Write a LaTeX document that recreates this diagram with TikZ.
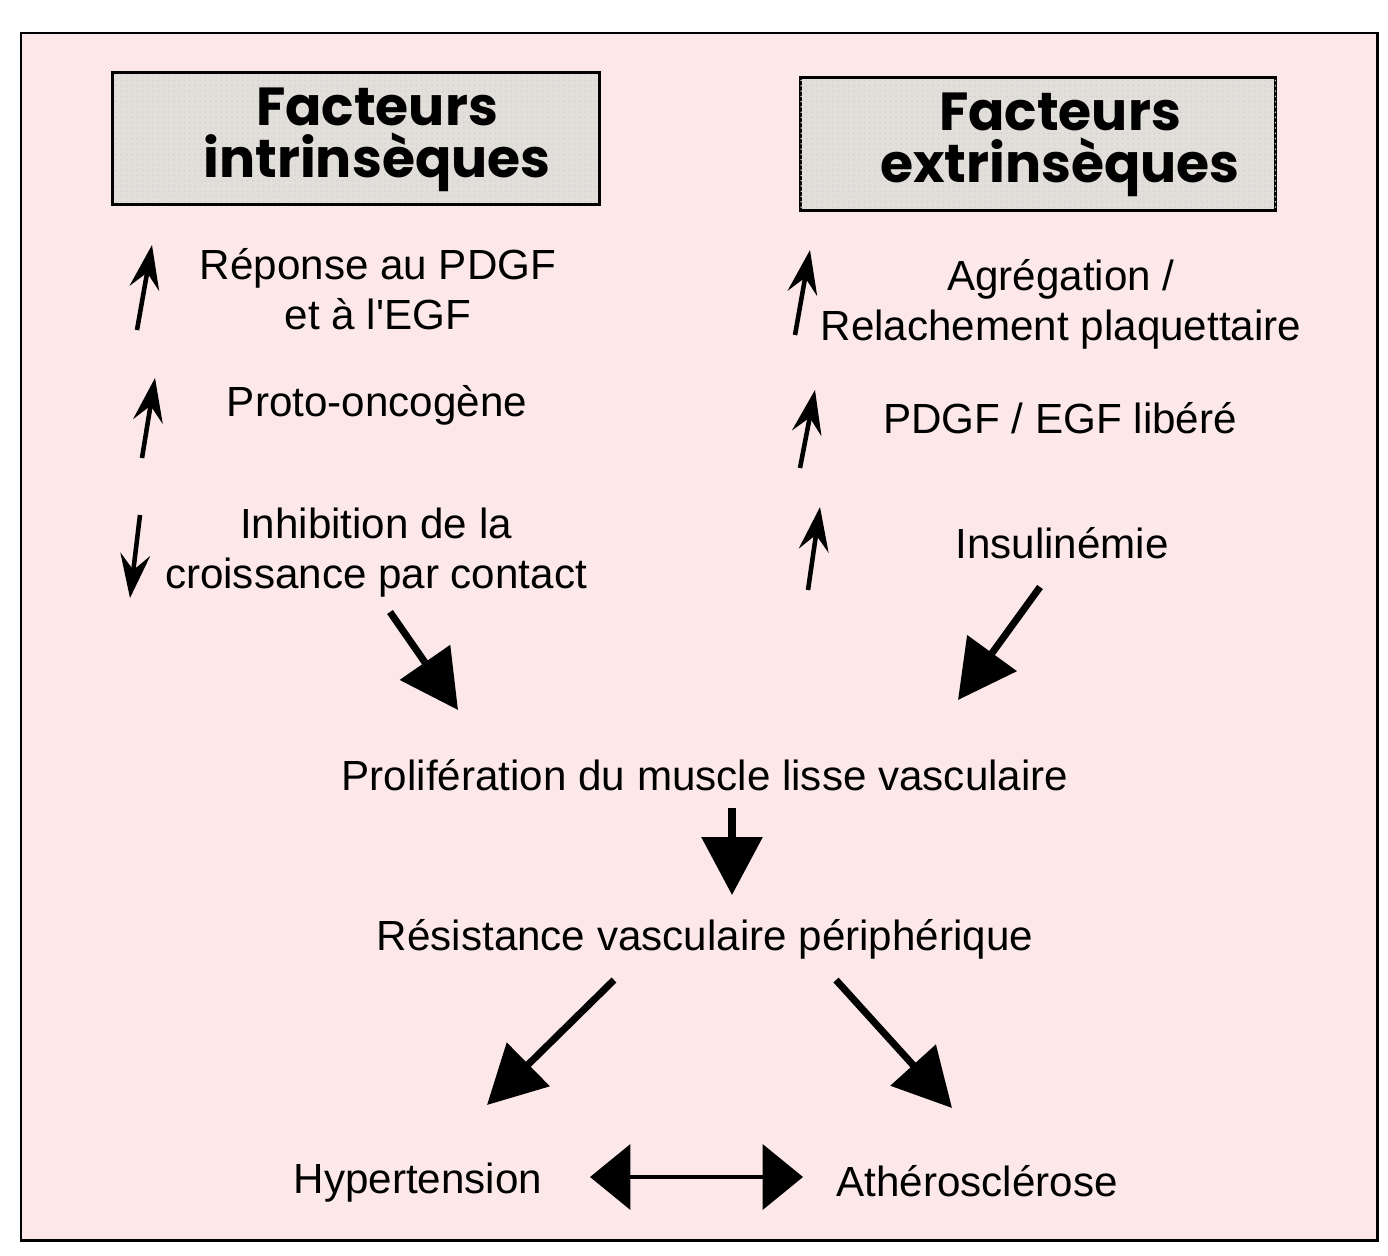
\documentclass[tikz,border=0pt]{standalone}
\usepackage{fontspec}
\setmainfont{Liberation Sans}[Ligatures=TeXOff]
\newfontfamily\headfont{Poppins}
\usepackage{tikz}
\usetikzlibrary{arrows.meta,patterns}
\definecolor{fondrose}{RGB}{252,232,232}
\definecolor{fondgris}{RGB}{226,223,219}
\tikzset{
  txt/.style={align=center, inner sep=0pt, font=\fontsize{24}{28.4}\selectfont},
  headbox/.style={draw, line width=1.7pt, fill=fondgris, inner sep=0pt,
    postaction={pattern=dots, pattern color=black!18}},
  headtxt/.style={align=center, inner sep=0pt, font=\headfont\bfseries\fontsize{30.5}{29.5}\selectfont},
  petite/.style={line width=2.6pt, -{Stealth[length=25pt, width=17pt, inset=9pt]}},
  grande/.style={line width=4pt, -{Triangle[length=33pt, width=34pt]}},
  double/.style={line width=2.4pt, {Triangle[length=23pt, width=37pt]}-{Triangle[length=23pt, width=37pt]}}
}
\begin{document}
\begin{tikzpicture}[x=0.02cm, y=-0.02cm]
\useasboundingbox (0,0) rectangle (1388,1256);
\fill[white] (0,0) rectangle (1388,1256);
\draw[line width=1.7pt, fill=fondrose] (21,33) rectangle (1377,1240);

% en-tetes
\node[headbox, minimum width=9.76cm, minimum height=2.66cm] (intr) at (356,138.5) {};
\node[headbox, minimum width=9.52cm, minimum height=2.68cm] (extr) at (1038,144) {};
\node[headtxt] (intrtxt) at (377,140) {Facteurs\\intrinsèques};
\node[headtxt] (extrtxt) at (1060,145) {Facteurs\\extrinsèques};

% facteurs intrinseques
\node[txt] (pdgf) at (378,289) {Réponse au PDGF\\et à l'EGF};
\node[txt] (proto) at (377,405) {Proto-oncogène};
\node[txt] (inhib) at (376,553) {Inhibition de la\\croissance par contact};
\draw[petite] (137,330) -- (152,245);
\draw[petite] (142,458) -- (155,378);
\draw[petite] (140,515) -- (130,598);

% facteurs extrinseques
\node[txt] (agreg) at (1061,304) {Agrégation /\\Relachement plaquettaire};
\node[txt] (libere) at (1060,418) {PDGF / EGF libéré};
\node[txt] (insul) at (1062,543) {Insulinémie};
\draw[petite] (795,335) -- (810,250);
\draw[petite] (800,468) -- (815,390);
\draw[petite] (808,590) -- (820,507);

% consequences
\node[txt] (prolif) at (705,775) {Prolifération du muscle lisse vasculaire};
\node[txt] (resist) at (705,939) {Résistance vasculaire périphérique};
\node[txt] (hyper) at (418,1183) {Hypertension};
\node[txt] (athero) at (977,1181) {Athérosclérose};

\draw[grande] ([shift={(14,59)}]inhib.center) -- ([shift={(-247,-65)}]prolif.center);
\draw[grande] ([shift={(-22,44)}]insul.center) -- ([shift={(253,-75)}]prolif.center);
\draw[grande] ([shift={(27,33)}]prolif.center) -- ([shift={(27,-44)}]resist.center);
\draw[grande] ([shift={(-91,41)}]resist.center) -- ([shift={(69,-78)}]hyper.center);
\draw[grande] ([shift={(131,41)}]resist.center) -- ([shift={(-25,-73)}]athero.center);
\draw[double] ([shift={(172,-6)}]hyper.center) -- ([shift={(-174,-4)}]athero.center);
\end{tikzpicture}
\end{document}
